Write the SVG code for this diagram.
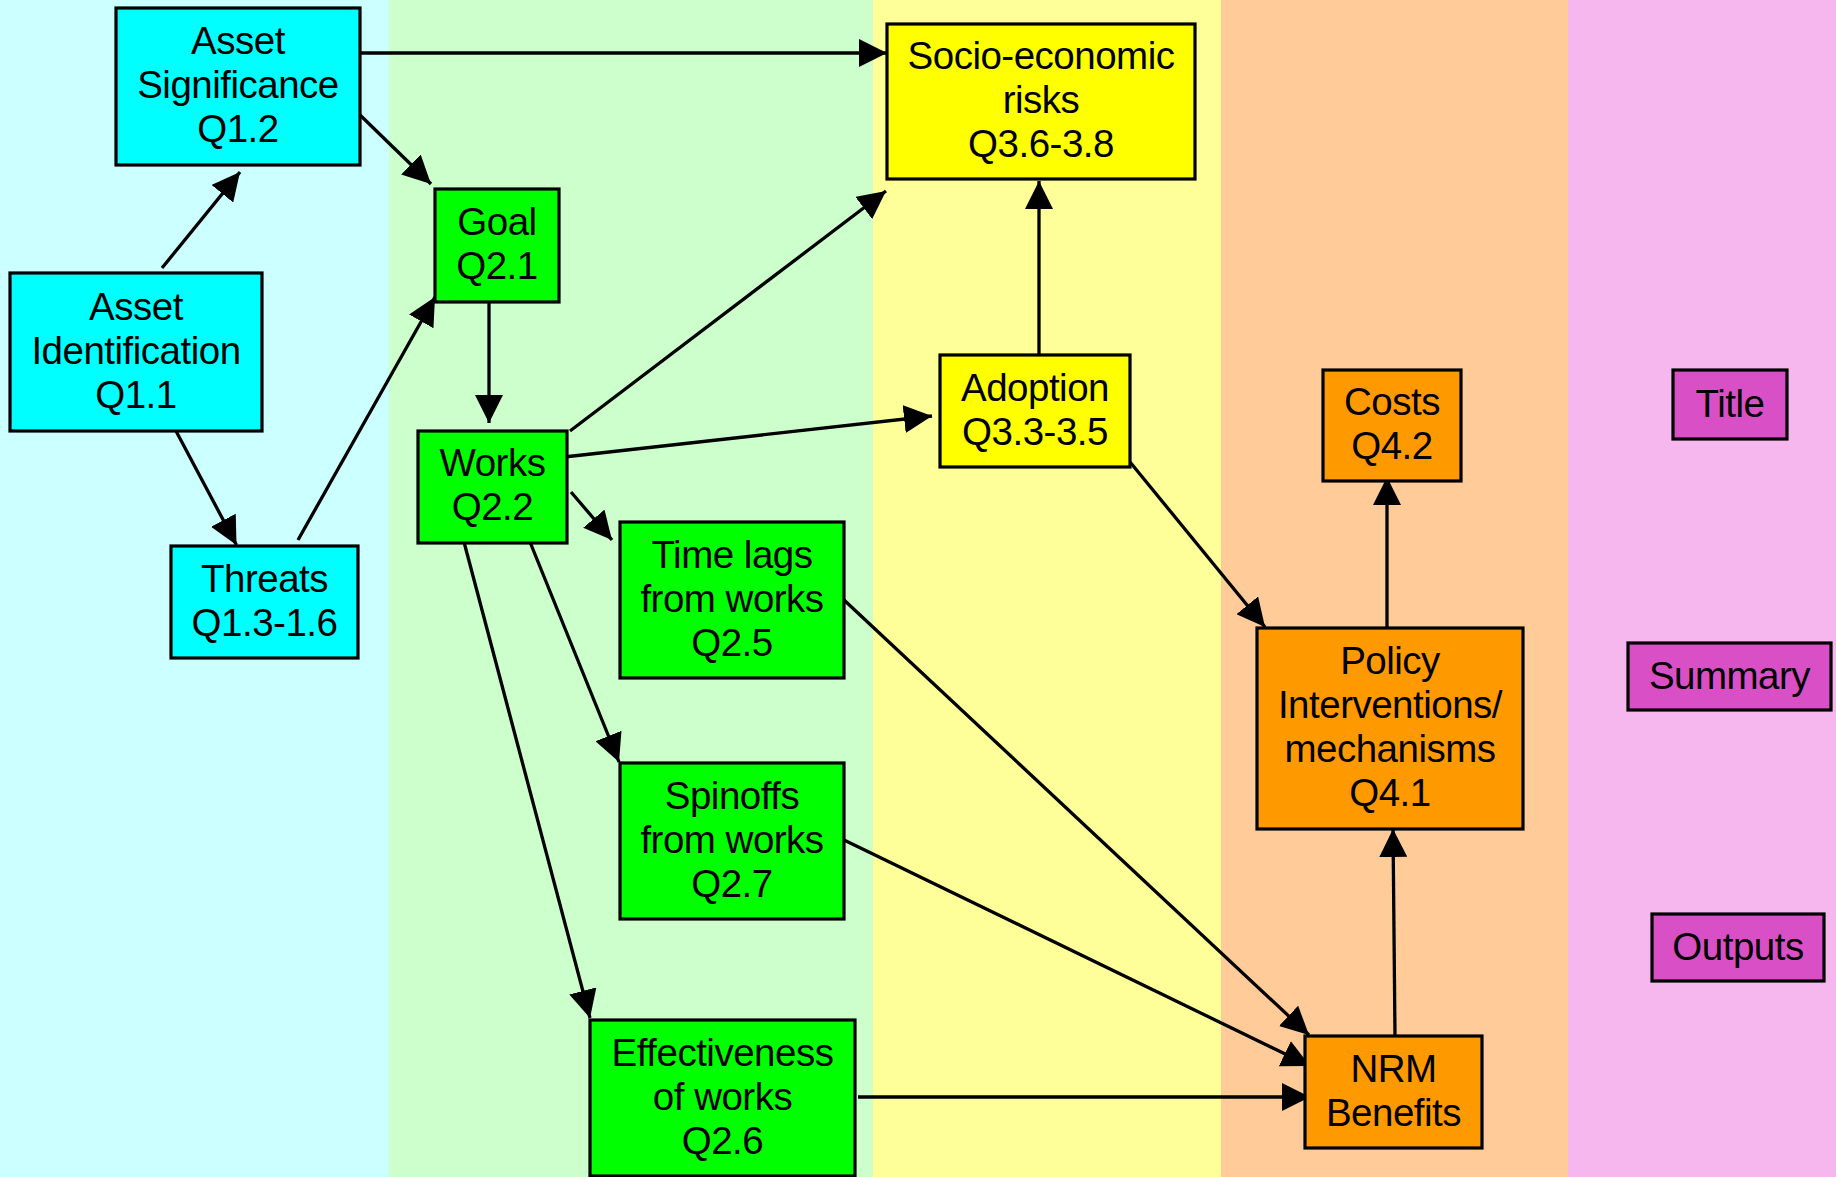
<svg xmlns="http://www.w3.org/2000/svg" width="1836" height="1177" viewBox="0 0 1836 1177">
<style>
.band{stroke:none}
.node rect{stroke:#000;stroke-width:3.2}
.node text{font-family:"Liberation Sans",Arial,sans-serif;font-size:38.5px;letter-spacing:-0.5px;fill:#000;text-anchor:middle}
.c1 rect{fill:#00FFFF}
.c2 rect{fill:#00FF00}
.c3 rect{fill:#FFFF00}
.c4 rect{fill:#FF9900}
.c5 rect{fill:#D94FC6}
#connectors path{fill:none;stroke:#000;stroke-width:3.3;marker-end:url(#arr)}
</style>
<defs>
<marker id="arr" markerUnits="userSpaceOnUse" markerWidth="28" markerHeight="28" refX="27" refY="13.5" orient="auto" viewBox="0 0 27 27">
<path d="M0,0 L27,13.5 L0,27 z" fill="#000"/>
</marker>
</defs>
<g id="bands">
<rect class="band" x="0" y="0" width="389" height="1177" fill="#CCFFFF"/>
<rect class="band" x="389" y="0" width="484" height="1177" fill="#CCFFCC"/>
<rect class="band" x="873" y="0" width="348" height="1177" fill="#FFFF99"/>
<rect class="band" x="1221" y="0" width="347" height="1177" fill="#FFCC99"/>
<rect class="band" x="1568" y="0" width="268" height="1177" fill="#F5B7EE"/>
</g>
<g id="connectors">
<path d="M360,53 L887,53"/>
<path d="M360,115 L431,184"/>
<path d="M162,268 L240,172"/>
<path d="M176,431 L236.5,545"/>
<path d="M298,540 L435,297"/>
<path d="M489,302 L489,423"/>
<path d="M570,431 L886,191"/>
<path d="M564,457 L932,416"/>
<path d="M1039,355 L1039,181"/>
<path d="M1130,462 L1265,627"/>
<path d="M1387,628 L1387,477"/>
<path d="M1395,1036 L1393,829"/>
<path d="M844,600 L1309,1035"/>
<path d="M844,840 L1310,1066"/>
<path d="M858,1097 L1310,1097"/>
<path d="M571,492 L612,540"/>
<path d="M530,542 L619,762"/>
<path d="M464,542 L590,1018"/>
</g>
<g id="asset-significance" class="node c1">
<rect x="116" y="8" width="244" height="157"/>
<text x="238" y="54">Asset</text>
<text x="238" y="98">Significance</text>
<text x="238" y="142">Q1.2</text>
</g>
<g id="asset-identification" class="node c1">
<rect x="10" y="273" width="252" height="158"/>
<text x="136" y="319.5">Asset</text>
<text x="136" y="363.5">Identification</text>
<text x="136" y="407.5">Q1.1</text>
</g>
<g id="threats" class="node c1">
<rect x="171" y="546" width="187" height="112"/>
<text x="264.5" y="591.5">Threats</text>
<text x="264.5" y="635.5">Q1.3-1.6</text>
</g>
<g id="goal" class="node c2">
<rect x="435" y="189" width="124" height="113"/>
<text x="497" y="235">Goal</text>
<text x="497" y="279">Q2.1</text>
</g>
<g id="works" class="node c2">
<rect x="418" y="431" width="149" height="112"/>
<text x="492.5" y="475.5">Works</text>
<text x="492.5" y="519.5">Q2.2</text>
</g>
<g id="time-lags" class="node c2">
<rect x="620" y="522" width="224" height="156"/>
<text x="732" y="567.5">Time lags</text>
<text x="732" y="611.5">from works</text>
<text x="732" y="655.5">Q2.5</text>
</g>
<g id="spinoffs" class="node c2">
<rect x="620" y="763" width="224" height="156"/>
<text x="732" y="808.5">Spinoffs</text>
<text x="732" y="852.5">from works</text>
<text x="732" y="896.5">Q2.7</text>
</g>
<g id="effectiveness" class="node c2">
<rect x="590" y="1020" width="265" height="156"/>
<text x="722.5" y="1065.5">Effectiveness</text>
<text x="722.5" y="1109.5">of works</text>
<text x="722.5" y="1153.5">Q2.6</text>
</g>
<g id="socio-economic" class="node c3">
<rect x="887" y="24" width="308" height="155"/>
<text x="1041" y="69">Socio-economic</text>
<text x="1041" y="113">risks</text>
<text x="1041" y="157">Q3.6-3.8</text>
</g>
<g id="adoption" class="node c3">
<rect x="940" y="355" width="190" height="112"/>
<text x="1035" y="400.5">Adoption</text>
<text x="1035" y="444.5">Q3.3-3.5</text>
</g>
<g id="costs" class="node c4">
<rect x="1323" y="370" width="138" height="111"/>
<text x="1392" y="415">Costs</text>
<text x="1392" y="459">Q4.2</text>
</g>
<g id="policy" class="node c4">
<rect x="1257" y="628" width="266" height="201"/>
<text x="1390" y="674">Policy</text>
<text x="1390" y="718">Interventions/</text>
<text x="1390" y="762">mechanisms</text>
<text x="1390" y="806">Q4.1</text>
</g>
<g id="nrm-benefits" class="node c4">
<rect x="1305" y="1036" width="177" height="112"/>
<text x="1393.5" y="1081.5">NRM</text>
<text x="1393.5" y="1125.5">Benefits</text>
</g>
<g id="title" class="node c5">
<rect x="1673" y="370" width="114" height="69"/>
<text x="1730" y="416.5">Title</text>
</g>
<g id="summary" class="node c5">
<rect x="1628" y="643" width="203" height="67"/>
<text x="1729.5" y="688.5">Summary</text>
</g>
<g id="outputs" class="node c5">
<rect x="1652" y="914" width="172" height="67"/>
<text x="1738" y="959.5">Outputs</text>
</g>
</svg>
